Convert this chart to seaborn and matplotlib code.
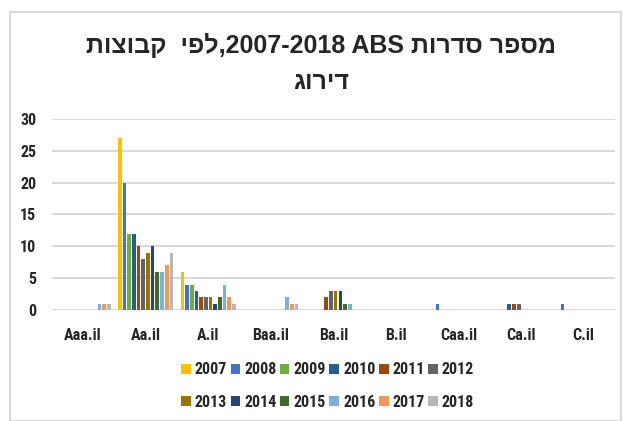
import re
import pandas as pd
import seaborn as sns
import matplotlib.pyplot as plt
from matplotlib.patches import Rectangle

ratings = ['Aaa.il', 'Aa.il', 'A.il', 'Baa.il', 'Ba.il', 'B.il', 'Caa.il', 'Ca.il', 'C.il']
years = ['2007', '2008', '2009', '2010', '2011', '2012',
         '2013', '2014', '2015', '2016', '2017', '2018']

y2007 = [0, 27, 6, 0, 0, 0, 0, 0, 0]
y2008 = [0, 20, 4, 0, 0, 0, 1, 0, 1]
y2009 = [0, 12, 4, 0, 0, 0, 0, 0, 0]
y2010 = [0, 12, 3, 0, 0, 0, 0, 1, 0]
y2011 = [0, 10, 2, 0, 2, 0, 0, 1, 0]
y2012 = [0, 8, 2, 0, 3, 0, 0, 1, 0]
y2013 = [0, 9, 2, 0, 3, 0, 0, 0, 0]
y2014 = [0, 10, 1, 0, 3, 0, 0, 0, 0]
y2015 = [0, 6, 2, 0, 1, 0, 0, 0, 0]
y2016 = [1, 6, 4, 2, 1, 0, 0, 0, 0]
y2017 = [1, 7, 2, 1, 0, 0, 0, 0, 0]
y2018 = [1, 9, 1, 1, 0, 0, 0, 0, 0]

colors = ['#FFC000', '#4472C4', '#70AD47', '#255E91', '#9E480E', '#636363',
          '#997300', '#264478', '#43682B', '#7CAFDD', '#F1975A', '#B7B7B7']

# title words already in display (left to right) order
title_line1 = 'קבוצות  לפי,2007-2018 ABS סדרות מספר'
title_line2 = 'דירוג'

series = [y2007, y2008, y2009, y2010, y2011, y2012,
          y2013, y2014, y2015, y2016, y2017, y2018]
rows = []
for yr, vals in zip(years, series):
    for r, v in zip(ratings, vals):
        rows.append({'rating': r, 'year': yr, 'count': v})
df = pd.DataFrame(rows)


def visual(s):
    # matplotlib draws left to right, so flip each hebrew word
    return re.sub(r'[\u0590-\u05FF]+', lambda m: m.group()[::-1], s)


sns.set_style('white')
narrow = ['Roboto Condensed', 'Liberation Sans Narrow', 'Liberation Sans', 'DejaVu Sans']
plt.rcParams['font.family'] = narrow

fig = plt.figure(figsize=(6.23, 4.21), dpi=100)
ax = fig.add_axes([0.083, 0.2637, 0.904, 0.4537])

sns.barplot(data=df, x='rating', y='count', hue='year', hue_order=years,
            order=ratings, palette=dict(zip(years, colors)),
            width=0.9, gap=0.22, linewidth=0, saturation=1, ax=ax)

ax.set_ylim(0, 30)
ax.set_yticks(range(0, 31, 5))
ax.yaxis.grid(True, color='#D9D9D9', linewidth=1.5)
ax.set_axisbelow(True)
for s in ax.spines.values():
    s.set_visible(False)
ax.set_xlabel('')
ax.set_ylabel('')
ax.tick_params(length=0)
ax.tick_params(axis='x', pad=13)
ax.tick_params(axis='y', pad=11)
for lab in ax.get_xticklabels() + ax.get_yticklabels():
    lab.set_fontweight('bold')
    lab.set_fontsize(11.5)

handles, labels = ax.get_legend_handles_labels()
ax.get_legend().remove()
order = []
for i in range(6):
    order += [i, i + 6]
fig.legend([handles[i] for i in order], [labels[i] for i in order],
           ncol=6, loc='center', bbox_to_anchor=(0.526, 0.083),
           frameon=False, handlelength=0.6, handleheight=0.6,
           handletextpad=0.25, columnspacing=0.22, labelspacing=1.1,
           prop={'weight': 'bold', 'size': 11.5})

fig.text(0.516, 0.893, visual(title_line1), ha='center', va='center',
         fontsize=18, fontweight='bold', family=['Liberation Sans', 'DejaVu Sans'])
fig.text(0.516, 0.805, visual(title_line2), ha='center', va='center',
         fontsize=18, fontweight='bold', family=['Liberation Sans', 'DejaVu Sans'])

fig.patches.append(Rectangle((10 / 623, 0), 611 / 623, 1 - 12 / 421,
                             transform=fig.transFigure, fill=False,
                             edgecolor='#D9D9D9', linewidth=1.5))

fig.savefig('out.png', dpi=100)
